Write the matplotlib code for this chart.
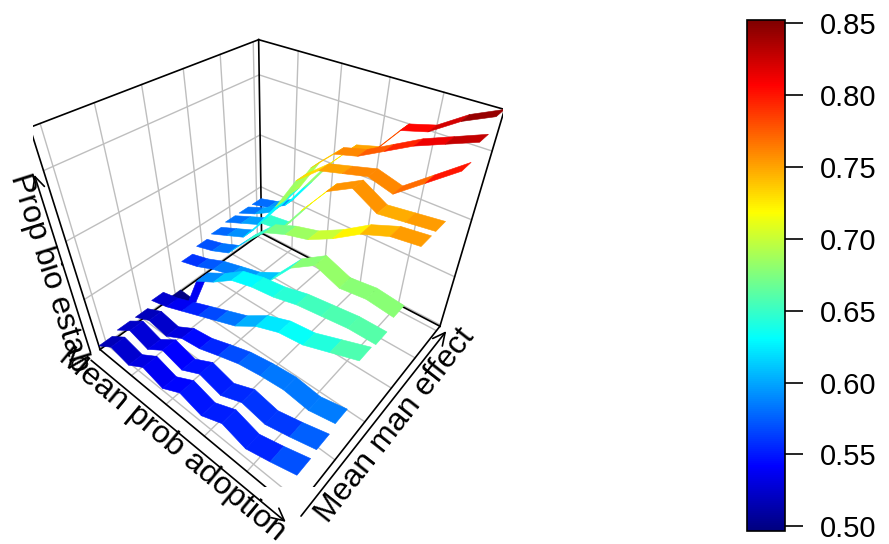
import numpy as np
import matplotlib
matplotlib.use("Agg")
import matplotlib.pyplot as plt
from matplotlib.colors import LinearSegmentedColormap, Normalize
from matplotlib.cm import ScalarMappable
from mpl_toolkits.mplot3d.art3d import Poly3DCollection

plt.rcParams['font.family'] = ['Liberation Sans', 'DejaVu Sans']

# data: rows = Mean man effect, columns = Mean prob adoption
adoption = [0.0, 0.1, 0.2, 0.3, 0.4, 0.5, 0.6, 0.7, 0.8, 0.9, 1.0]
man_effect = [0.0, 0.1, 0.2, 0.3, 0.4, 0.5, 0.6, 0.7, 0.8, 0.9, 1.0]
prop_estab = [
    [0.505, 0.530, 0.520, 0.545, 0.532, 0.555, 0.542, 0.562, 0.548, 0.562, 0.578],
    [0.510, 0.535, 0.522, 0.548, 0.536, 0.558, 0.546, 0.565, 0.556, 0.568, 0.582],
    [0.510, 0.528, 0.520, 0.542, 0.548, 0.562, 0.575, 0.582, 0.586, 0.580, 0.590],
    [0.520, 0.530, 0.545, 0.560, 0.575, 0.590, 0.615, 0.630, 0.635, 0.650, 0.665],
    [0.500, 0.497, 0.580, 0.600, 0.625, 0.635, 0.640, 0.650, 0.655, 0.660, 0.660],
    [0.555, 0.565, 0.580, 0.590, 0.600, 0.620, 0.665, 0.690, 0.675, 0.680, 0.675],
    [0.565, 0.575, 0.590, 0.630, 0.665, 0.680, 0.690, 0.710, 0.735, 0.750, 0.755],
    [0.570, 0.585, 0.600, 0.645, 0.650, 0.700, 0.745, 0.765, 0.745, 0.750, 0.755],
    [0.575, 0.590, 0.605, 0.655, 0.715, 0.745, 0.755, 0.765, 0.755, 0.785, 0.815],
    [0.575, 0.590, 0.610, 0.660, 0.720, 0.755, 0.765, 0.785, 0.805, 0.820, 0.835],
    [0.575, 0.585, 0.605, 0.655, 0.705, 0.745, 0.755, 0.800, 0.810, 0.835, 0.852],
]
cbar_ticks = [0.50, 0.55, 0.60, 0.65, 0.70, 0.75, 0.80, 0.85]

# jet.col palette from plot3D
jet = LinearSegmentedColormap.from_list(
    "jet_col", ["#00007F", "blue", "#007FFF", "cyan", "#7FFF7F",
                "yellow", "#FF7F00", "red", "#7F0000"])

x = np.array(adoption)
y = np.array(man_effect)
z = np.array(prop_estab)
hw = 0.35 * (y[1] - y[0])        # ribbon half width (space = 0.3)
xlo, xhi = x.min(), x.max()
ylo, yhi = y.min() - hw, y.max() + hw
zlo, zhi = z.min(), z.max()
norm = Normalize(zlo, zhi)

W, H = 889, 544
fig = plt.figure(figsize=(W / 100, H / 100), dpi=100)
ax = fig.add_axes([0.0374, 0.1045, 0.5283, 0.8633], projection='3d')
ax.set_xlim(xlo, xhi)
ax.set_ylim(ylo, yhi)
ax.set_zlim(zlo, zhi)
ax.set_axis_off()
ax.computed_zorder = False
ax.view_init(elev=39.27, azim=-50.43, roll=-0.26)
ax.set_proj_type('persp', focal_length=0.208)
ax.set_box_aspect((1, 1, 0.981))


def project(P):
    M = ax.get_proj()
    h = np.column_stack([P, np.ones(len(P))]) @ M.T
    return h[:, :2] / h[:, 3:]


# back panels: grid lines
grid = dict(color='#BEBEBE', lw=1.0, zorder=1)
for gx in [0.2, 0.4, 0.6, 0.8]:
    ax.plot([gx, gx], [yhi, yhi], [zlo, zhi], **grid)
    ax.plot([gx, gx], [ylo, yhi], [zlo, zlo], **grid)
for gy in [0.0, 0.2, 0.4, 0.6, 0.8, 1.0]:
    ax.plot([xlo, xlo], [gy, gy], [zlo, zhi], **grid)
    ax.plot([xlo, xhi], [gy, gy], [zlo, zlo], **grid)
for gz in [0.5, 0.6, 0.7, 0.8]:
    ax.plot([xlo, xlo], [ylo, yhi], [gz, gz], **grid)
    ax.plot([xlo, xhi], [yhi, yhi], [gz, gz], **grid)

# box edges
box = dict(color='black', lw=1.2, zorder=2)
for P, Q in [((xlo, ylo, zlo), (xhi, ylo, zlo)), ((xhi, ylo, zlo), (xhi, yhi, zlo)),
             ((xhi, yhi, zlo), (xlo, yhi, zlo)), ((xlo, yhi, zlo), (xlo, ylo, zlo)),
             ((xlo, ylo, zlo), (xlo, ylo, zhi)), ((xlo, yhi, zlo), (xlo, yhi, zhi)),
             ((xhi, yhi, zlo), (xhi, yhi, zhi)), ((xlo, ylo, zhi), (xlo, yhi, zhi)),
             ((xlo, yhi, zhi), (xhi, yhi, zhi))]:
    ax.plot(*zip(P, Q), **box)

# ribbons, one per man effect value
verts, vals = [], []
for j in range(len(y)):
    for i in range(len(x) - 1):
        verts.append([(x[i], y[j] - hw, z[j, i]), (x[i + 1], y[j] - hw, z[j, i + 1]),
                      (x[i + 1], y[j] + hw, z[j, i + 1]), (x[i], y[j] + hw, z[j, i])])
        vals.append((z[j, i] + z[j, i + 1]) / 2)
fc = jet(norm(vals))
ax.add_collection3d(Poly3DCollection(verts, facecolors=fc, edgecolors=fc,
                                     linewidths=0.4, zorder=5))

# axis arrows and labels, placed from the projected box edges
fig.canvas.draw()
centre = ax.transData.transform(project(np.array([[0.5, 0.5, zlo]])))[0]


def edge_label(P, Q, text, off, loff, frac, upto=1.0):
    a, b = ax.transData.transform(project(np.array([P, Q])))
    d = (b - a) / np.hypot(*(b - a))
    n = np.array([d[1], -d[0]])
    if np.dot(n, (a + b) / 2 - centre) < 0:
        n = -n
    ang = np.degrees(np.arctan2(d[1], d[0]))
    if ang > 90:
        ang -= 180
    ax.annotate('', xy=a + (b - a) * upto + n * off, xytext=a + n * off,
                xycoords='figure pixels', textcoords='figure pixels',
                arrowprops=dict(arrowstyle='->', lw=1.2, color='black',
                                mutation_scale=22, shrinkA=0, shrinkB=0))
    m = a + (b - a) * frac + n * loff
    ax.annotate(text, xy=m, xycoords='figure pixels', rotation=ang,
                rotation_mode='anchor', ha='center', va='center', fontsize=23)


edge_label((xlo, ylo, zlo), (xhi, ylo, zlo), 'Mean prob adoption', 14, 27, 0.46)
edge_label((xhi, ylo, zlo), (xhi, yhi, zlo), 'Mean man effect', 8, 26, 0.55)
edge_label((xlo, ylo, zlo), (xlo, ylo, zhi), 'Prop bio estab', 10, 25, 0.38, upto=0.8)

# colour key
cax = fig.add_axes([746.7 / W, 13.3 / H, 38.3 / W, 510.7 / H])
cb = fig.colorbar(ScalarMappable(norm=norm, cmap=jet), cax=cax, ticks=cbar_ticks,
                  format='%.2f')
cb.outline.set_linewidth(1.2)
cax.tick_params(length=13, width=1.2, labelsize=21, pad=12)

fig.savefig('out.png', dpi=100)
